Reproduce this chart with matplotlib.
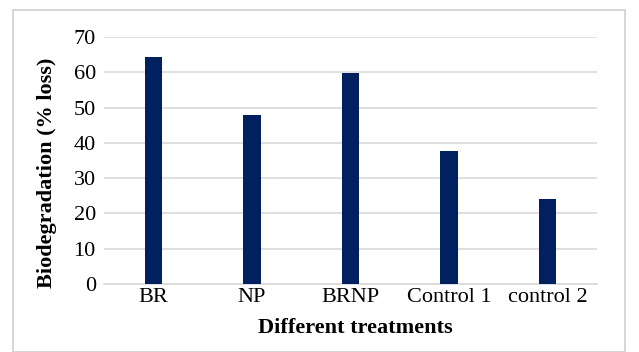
import matplotlib
matplotlib.use('Agg')
import matplotlib.pyplot as plt
from matplotlib.patches import Rectangle

treatments = ['BR', 'NP', 'BRNP', 'Control 1', 'control 2']
loss = [64.3, 47.9, 59.8, 37.7, 24.1]
yticks = [0, 10, 20, 30, 40, 50, 60, 70]

plt.rcParams['font.family'] = ['Liberation Serif', 'DejaVu Serif']

fig = plt.figure(figsize=(6.39, 3.52), dpi=100)
# light frame around the chart area
fig.patches.append(Rectangle((13/639, 0), 612/639, 342/352, transform=fig.transFigure,
                             fill=False, edgecolor='#d0d0d0', linewidth=1.2))

ax = fig.add_axes([0.163, 0.193, 0.771, 0.702])
x = range(len(treatments))
ax.bar(x, loss, width=0.18, color='#002060', zorder=3)

ax.set_xlim(-0.5, len(treatments) - 0.5)
ax.set_ylim(0, 70)
ax.set_yticks(yticks)
ax.set_xticks(list(x))
ax.set_xticklabels(treatments)
ax.yaxis.grid(True, color='#d9d9d9', linewidth=1.2, zorder=0)
for side in ['top', 'right', 'left']:
    ax.spines[side].set_visible(False)
ax.spines['bottom'].set_color('#d9d9d9')
ax.spines['bottom'].set_linewidth(1.2)
ax.tick_params(length=0, labelsize=16, colors='#000000')
ax.tick_params(axis='y', pad=6)
ax.tick_params(axis='x', pad=3)

ax.set_ylabel('Biodegradation (% loss)', fontsize=16, fontweight='bold', va='center')
ax.yaxis.set_label_coords(-0.116, 0.45)
ax.set_xlabel('Different treatments', fontsize=16, fontweight='bold', va='center')
ax.xaxis.set_label_coords(0.51, -0.178)

fig.savefig('out.png', dpi=100)
